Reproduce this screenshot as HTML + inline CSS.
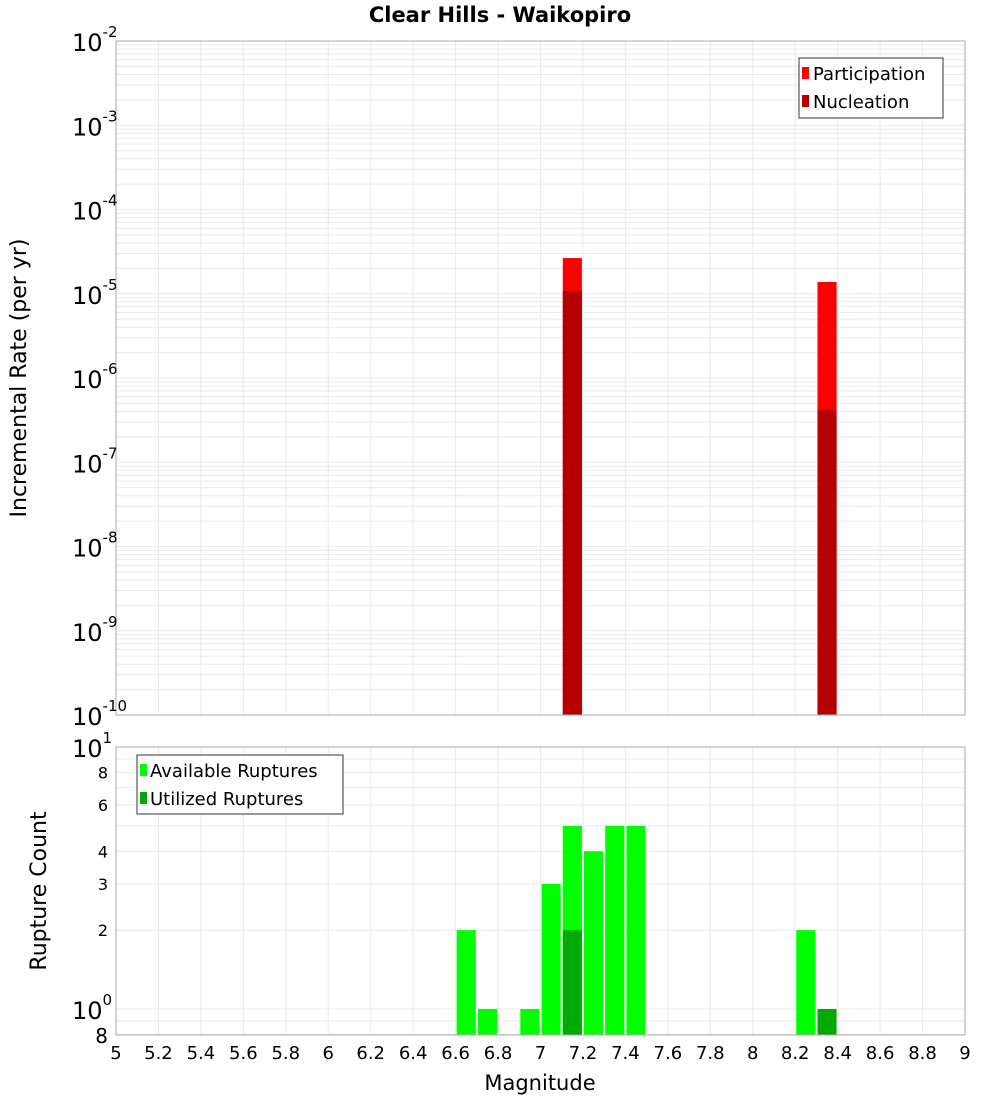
<!DOCTYPE html>
<html><head><meta charset="utf-8"><style>
body{margin:0;background:#fff;width:1000px;height:1100px;overflow:hidden}
svg{font-family:"DejaVu Sans","Liberation Sans",sans-serif}
</style></head><body>
<svg id="c" width="1000" height="1100" xmlns="http://www.w3.org/2000/svg"></svg>
<script>
const xTicks=[5,5.2,5.4,5.6,5.8,6,6.2,6.4,6.6,6.8,7,7.2,7.4,7.6,7.8,8,8.2,8.4,8.6,8.8,9];
const topExps=[-2,-3,-4,-5,-6,-7,-8,-9,-10];
const partMags=[7.15,8.35];
const partVals=[2.65e-5,1.38e-5];
const nuclMags=[7.15,8.35];
const nuclVals=[1.08e-5,4.17e-7];
const availMags=[6.65,6.75,6.95,7.05,7.15,7.25,7.35,7.45,8.25];
const availVals=[2,1,1,3,5,4,5,5,2];
const utilMags=[7.15,8.35];
const utilVals=[2,1];
const botTicks=[8,6,4,3,2];

const S=document.getElementById('c');const NS='http://www.w3.org/2000/svg';
function el(t,a,txt){const e=document.createElementNS(NS,t);for(const k in a)e.setAttribute(k,a[k]);if(txt!==undefined)e.textContent=txt;S.appendChild(e);return e;}
const X0=116,X1=965;
const xs=m=>X0+(m-5)/4*(X1-X0);
const T0=41,T1=715;
const yt=v=>T0+(-2-Math.log10(v))/8*(T1-T0);
const B0=747,B1=1035;
const yb=v=>1009-Math.log10(v)*262;
const bw=0.09;

// title
let t=el('text',{x:500,y:22,'text-anchor':'middle','font-size':21,'font-weight':'bold'},'Clear Hills - Waikopiro');


// top plot grid
for(let e=-10;e<-2;e++){for(let k=1;k<10;k++){const y=yt(k*Math.pow(10,e));
 const l=el('line',{x1:X0,x2:X1,y1:y,y2:y,stroke:'#ebebeb','stroke-width':1});}}
xTicks.forEach(m=>{const l=el('line',{x1:xs(m),x2:xs(m),y1:T0,y2:T1,stroke:'#ebebeb'});});
// bottom grid
for(let v=0.8;v<10.01;v+=(v<0.95?0.1:1)){const vv=Math.round(v*10)/10;const y=yb(vv);if(y<B0||y>B1)continue;
 const l=el('line',{x1:X0,x2:X1,y1:y,y2:y,stroke:'#ebebeb'});}
xTicks.forEach(m=>{const l=el('line',{x1:xs(m),x2:xs(m),y1:B0,y2:B1,stroke:'#ebebeb'});});

// top bars
partMags.forEach((m,i)=>{const y=yt(partVals[i]);const r=el('rect',{x:xs(m-bw/2),y:y,width:xs(m+bw/2)-xs(m-bw/2),height:T1-y,fill:'#ff0000'});
 });
nuclMags.forEach((m,i)=>{const y=yt(nuclVals[i]);const r=el('rect',{x:xs(m-bw/2),y:y,width:xs(m+bw/2)-xs(m-bw/2),height:T1-y,fill:'#b40000'});
 });
// bottom bars
availMags.forEach((m,i)=>{const y=yb(availVals[i]);const r=el('rect',{x:xs(m-bw/2),y:y,width:xs(m+bw/2)-xs(m-bw/2),height:B1-y,fill:'#00ff00'});
 });
utilMags.forEach((m,i)=>{const y=yb(utilVals[i]);const r=el('rect',{x:xs(m-bw/2),y:y,width:xs(m+bw/2)-xs(m-bw/2),height:B1-y,fill:'#00aa00'});
 });

// frames
let f=el('rect',{x:X0,y:T0,width:X1-X0,height:T1-T0,fill:'none',stroke:'#aaa'});
f=el('rect',{x:X0,y:B0,width:X1-X0,height:B1-B0,fill:'none',stroke:'#aaa'});

// top y ticks
topExps.forEach(e=>{const y=yt(Math.pow(10,e));const g=el('text',{x:72,y:y+10,'font-size':24});
 
 g.textContent='10';const s=document.createElementNS(NS,'tspan');s.setAttribute('dy',-14);s.setAttribute('font-size',15);s.textContent=String(e);g.appendChild(s);});
// bottom y ticks
[[1,'10','1'],[0,'10','0']].forEach(([p,b,sp])=>{const y=yb(Math.pow(10,p));const g=el('text',{x:72,y:y+10,'font-size':24});
 
 g.textContent=b;const s=document.createElementNS(NS,'tspan');s.setAttribute('dy',-14);s.setAttribute('font-size',15);s.textContent=sp;g.appendChild(s);});
botTicks.forEach(v=>{const y=yb(v);const g=el('text',{x:108,y:y+6,'font-size':16,'text-anchor':'end'},String(v));
 });
t=el('text',{x:108,y:1043,'font-size':20,'text-anchor':'end'},'8');
// x ticks
xTicks.forEach(m=>{const g=el('text',{x:xs(m),y:1059,'font-size':18,'text-anchor':'middle'},String(m));
 });

// axis titles
t=el('text',{x:540,y:1090,'font-size':21,'text-anchor':'middle'},'Magnitude');
t=el('text',{x:0,y:0,'font-size':22,'text-anchor':'middle',transform:'translate(26,378) rotate(-90)'},'Incremental Rate (per yr)');
t=el('text',{x:0,y:0,'font-size':22,'text-anchor':'middle',transform:'translate(46,891) rotate(-90)'},'Rupture Count');

// legends
f=el('rect',{x:799,y:58,width:144,height:60,fill:'#fff',stroke:'#333'});
[['Participation','#ff0000',73],['Nucleation','#b40000',101]].forEach(([n,c,y])=>{
 const r=el('rect',{x:802,y:y-6,width:7,height:12,fill:c});
 const l=el('text',{x:813,y:y+7,'font-size':18},n);});
f=el('rect',{x:137,y:755,width:206,height:59,fill:'#fff',stroke:'#333'});
[['Available Ruptures','#00ff00',770],['Utilized Ruptures','#00aa00',798]].forEach(([n,c,y])=>{
 const r=el('rect',{x:140,y:y-6,width:7,height:12,fill:c});
 const l=el('text',{x:150,y:y+7,'font-size':18},n);});
</script>
</body></html>
